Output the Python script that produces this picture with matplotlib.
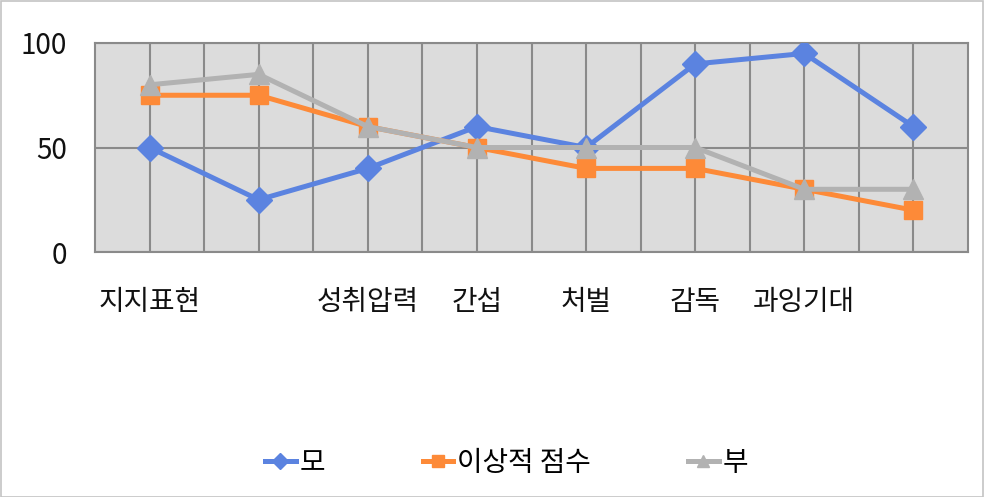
import matplotlib.pyplot as plt
from matplotlib.patches import Rectangle
from matplotlib.ticker import FixedLocator

plt.rcParams['font.family'] = ['Noto Sans CJK KR', 'DejaVu Sans']

# categories (two labels are not shown in the original)
categories = ['지지표현', '', '성취압력', '간섭', '처벌', '감독', '과잉기대', '']
mother = [50, 25, 40, 60, 50, 90, 95, 60]
ideal = [75, 75, 60, 50, 40, 40, 30, 20]
father = [80, 85, 60, 50, 50, 50, 30, 30]
y_ticks = [0, 50, 100]

fig = plt.figure(figsize=(9.84, 4.97), dpi=100)
ax = fig.add_axes([95 / 984, 1 - 252 / 497, (968 - 95) / 984, (252 - 43) / 497])
ax.set_facecolor('#dcdcdc')

x = range(len(categories))
ax.plot(x, mother, color='#5b83e0', lw=3.6, marker='D', ms=13, label='모', zorder=3)
ax.plot(x, ideal, color='#fd8a38', lw=3.6, marker='s', ms=13.5, label='이상적 점수', zorder=3)
ax.plot(x, father, color='#b2b2b2', lw=3.6, marker='^', ms=14, label='부', zorder=3)

ax.set_xlim(-0.5, len(categories) - 0.5)
ax.set_ylim(0, 100)
ax.set_xticks(list(x))
ax.set_xticklabels(categories)
ax.set_yticks(y_ticks)
ax.xaxis.set_minor_locator(FixedLocator([i + 0.5 for i in range(len(categories) - 1)]))
ax.tick_params(axis='both', which='both', length=0, labelsize=20, colors='#111111')
ax.tick_params(axis='x', pad=25)
ax.tick_params(axis='y', pad=20)

ax.grid(True, which='both', color='#8a8a8a', lw=1.5, zorder=1)
ax.set_axisbelow(True)
for s in ax.spines.values():
    s.set_color('#8a8a8a')
    s.set_linewidth(1.5)

fig.legend(loc='center', bbox_to_anchor=(0.515, 1 - 463 / 497), ncol=3, frameon=False,
           fontsize=20, handlelength=1.1, handletextpad=0.15, columnspacing=3.5,
           markerscale=0.65)

fig.add_artist(Rectangle((0.001, 0.001), 0.998, 0.997, transform=fig.transFigure,
                         fill=False, edgecolor='#c4c4c4', lw=1.2))

fig.savefig('out.png', dpi=100)
